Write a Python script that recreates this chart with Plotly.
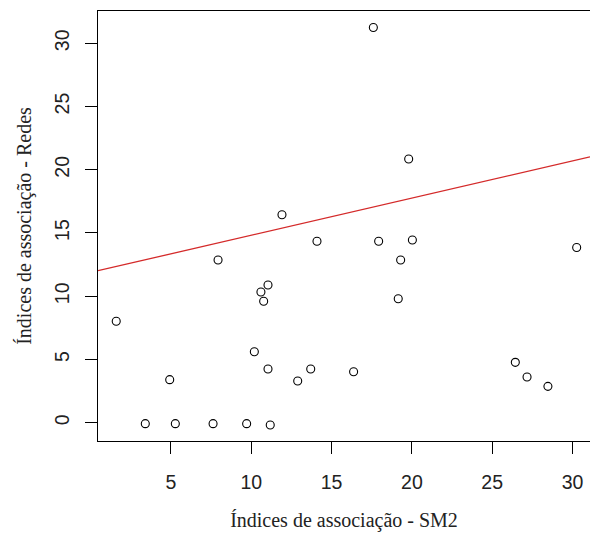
import plotly.graph_objects as go

# Data
sm2 = [1.59, 3.40, 4.92, 5.27, 7.93, 7.62, 9.71, 10.19, 10.60, 11.04, 10.77, 11.04, 11.18,
       12.89, 13.70, 16.37, 19.30, 19.15, 26.44, 27.17, 28.47, 30.26, 17.60, 19.80, 11.91,
       14.09, 17.93, 20.03]
redes = [8.02, -0.08, 3.40, -0.08, 12.86, -0.08, -0.08, 5.61, 10.33, 10.89, 9.60, 4.24, -0.18,
         3.30, 4.24, 4.03, 12.86, 9.80, 4.77, 3.61, 2.87, 13.85, 31.25, 20.85, 16.44,
         14.34, 14.34, 14.44]
line_intercept = [11.88]
line_slope = [0.294]
x_ticks = [5, 10, 15, 20, 25, 30]
y_ticks = [0, 5, 10, 15, 20, 25, 30]

XLIM = [0.455, 31.09]
YLIM = [-1.45, 32.55]

fig = go.Figure()
fig.add_trace(go.Scatter(
    x=XLIM,
    y=[line_intercept[0] + line_slope[0] * v for v in XLIM],
    mode="lines", line=dict(color="#D42A2A", width=1.3), hoverinfo="skip"))
fig.add_trace(go.Scatter(
    x=sm2, y=redes, mode="markers",
    marker=dict(symbol="circle-open", size=8, color="black", line=dict(width=1.1))))

tickfont = dict(family="Liberation Sans, Arial, sans-serif", size=19.5, color="#222")
titlefont = dict(family="Liberation Serif, Times New Roman, serif", size=20, color="#222")

fig.update_layout(
    width=590, height=536, showlegend=False,
    paper_bgcolor="white", plot_bgcolor="white",
    margin=dict(l=98, r=0, t=11, b=95, autoexpand=False),
    xaxis=dict(range=XLIM, tickvals=x_ticks, ticktext=[str(v) for v in x_ticks],
               automargin=False,
               showgrid=False, zeroline=False, showline=True, linecolor="black", linewidth=1.2,
               mirror=True, ticks="outside", ticklen=12, tickcolor="black", tickwidth=1.2,
               tickfont=tickfont, ticklabelstandoff=11,
               title=dict(text="Índices de associação - SM2", font=titlefont, standoff=21)),
    yaxis=dict(range=YLIM, tickvals=y_ticks, ticktext=[str(v) for v in y_ticks],
               automargin=False,
               showgrid=False, zeroline=False, showline=True, linecolor="black", linewidth=1.2,
               ticks="outside", ticklen=12, tickcolor="black", tickwidth=1.2,
               tickangle=-90, tickfont=tickfont, ticklabelstandoff=8,
               title=dict(text="Índices de associação - Redes", font=titlefont, standoff=14)),
)
fig.write_html("out.html", config={"displayModeBar": False},
               post_script="document.body.style.margin='0';document.body.style.overflow='hidden';")
